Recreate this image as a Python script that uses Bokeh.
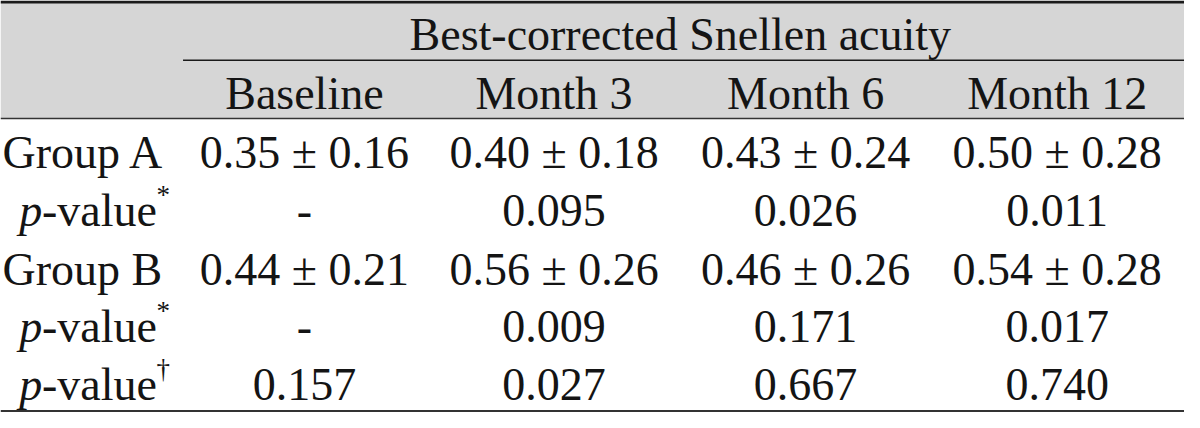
from bokeh.plotting import figure
from bokeh.models import Range1d
from bokeh.core.properties import value
from bokeh.embed import file_html
from bokeh.resources import INLINE

# ---- data ----
title = "Best-corrected Snellen acuity"
columns = ["Baseline", "Month 3", "Month 6", "Month 12"]
group_a = ["0.35 ± 0.16", "0.40 ± 0.18", "0.43 ± 0.24", "0.50 ± 0.28"]
p_a = ["-", "0.095", "0.026", "0.011"]
group_b = ["0.44 ± 0.21", "0.56 ± 0.26", "0.46 ± 0.26", "0.54 ± 0.28"]
p_b = ["-", "0.009", "0.171", "0.017"]
p_ab = ["0.157", "0.027", "0.667", "0.740"]
row_labels = ["Group A", None, "Group B", None, None]
row_marks = [None, "*", None, "*", "\u2020"]

# ---- layout (reference pixel coordinates) ----
W, H = 1200, 428
FONT = value("Liberation Serif")
FS = "46px"
col_x = [308, 561, 816, 1071]
MID = 11  # baseline -> middle offset
row_base = [169, 229, 290, 350, 410]

p = figure(width=1184, height=412, output_backend="svg", toolbar_location=None,
           x_range=Range1d(0, W), y_range=Range1d(H, 0),
           min_border=0, outline_line_color=None, background_fill_color="white")
p.axis.visible = False
p.grid.visible = False

# header band
p.quad(left=[0], right=[W], top=[2], bottom=[122], fill_color="#d6d6d6", line_color=None)
# rules
p.segment(x0=[0], y0=[1.5], x1=[W], y1=[1.5], line_color="#1a1a1a", line_width=3)
p.segment(x0=[185], y0=[62], x1=[W], y1=[62], line_color="#1a1a1a", line_width=1.5)
p.segment(x0=[0], y0=[122.5], x1=[W], y1=[122.5], line_color="#333333", line_width=1.5)
p.segment(x0=[0], y0=[426.5], x1=[W], y1=[426.5], line_color="#333333", line_width=2)

common = dict(text_font=FONT, text_color="#141414", text_baseline="middle")

# header texts
p.text(x=[689], y=[46 - MID], text=[title], text_align="center", text_font_size=FS, **common)
p.text(x=col_x, y=[108 - MID] * 4, text=columns, text_align="center", text_font_size=FS, **common)

# body cells
rows = [group_a, p_a, group_b, p_b, p_ab]
xs, ys, ts = [], [], []
for r, vals in enumerate(rows):
    for c, v in enumerate(vals):
        xs.append(col_x[c]); ys.append(row_base[r] - MID); ts.append(v)
p.text(x=xs, y=ys, text=ts, text_align="center", text_font_size=FS, **common)

# row labels
for r, lab in enumerate(row_labels):
    yb = row_base[r] - MID
    if lab is not None:
        p.text(x=[2], y=[yb], text=[lab], text_align="left", text_font_size=FS, **common)
    else:
        x0 = 19
        p.text(x=[x0], y=[yb], text=["p"], text_align="left", text_font_size=FS,
               text_font_style="italic", **common)
        p.text(x=[x0 + 23], y=[yb], text=["-value"], text_align="left", text_font_size=FS, **common)
        p.text(x=[x0 + 139], y=[yb - 16], text=[row_marks[r]], text_align="left",
               text_font_size="27px", **common)

open("out.html", "w").write(file_html(p, INLINE))
